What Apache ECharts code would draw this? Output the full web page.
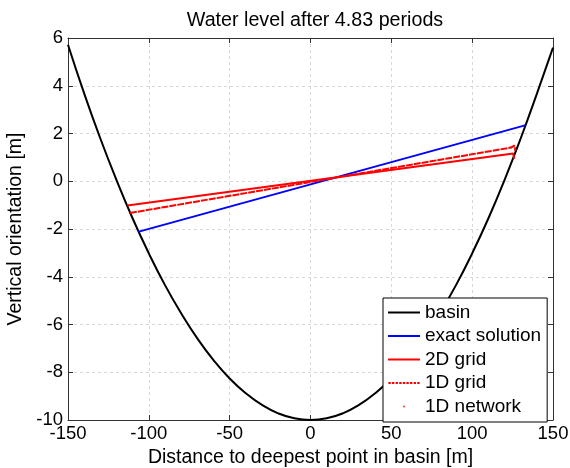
<!DOCTYPE html>
<html>
<head>
<meta charset="utf-8">
<script src="https://cdn.jsdelivr.net/npm/echarts@6/dist/echarts.min.js"></script>
<style>html,body{margin:0;padding:0;background:#fff;}#c{width:570px;height:468px;}</style>
</head>
<body>
<div id="c"></div>
<script>
var basinX = [-150,-140,-130,-120,-110,-100,-90,-80,-70,-60,-50,-40,-30,-20,-10,0,10,20,30,40,50,60,70,80,90,100,110,120,130,140,150];
var basinY = [5.72,3.68,1.79,0.05,-1.56,-3.02,-4.35,-5.53,-6.58,-7.49,-8.26,-8.88,-9.37,-9.72,-9.93,-10,-9.93,-9.72,-9.37,-8.88,-8.26,-7.49,-6.58,-5.53,-4.35,-3.02,-1.56,0.05,1.79,3.66,5.6];
var exactX = [-106.7, 133.2];
var exactY = [-2.12, 2.35];
var grid2dX = [-113.3, 123.1, 125.4, 126];
var grid2dY = [-1.02, 1.14, 1.16, 0.94];
var grid1dX = [-111.7, 124, 126, 126.8];
var grid1dY = [-1.33, 1.41, 1.49, 1.28];
var networkX = grid1dX;
var networkY = grid1dY;
var xTicks = [-150, 150, 50];
var yTicks = [-10, 6, 2];

function pts(xs, ys) { return xs.map(function (x, i) { return [x, ys[i]]; }); }

var FONT = 'Liberation Sans, Arial, sans-serif';
var axisCol = '#333';
var chart = echarts.init(document.getElementById('c'));
var dotted = 'path://M0,0h2.4v2h-2.4z M3.6,0h2.4v2h-2.4z M7.2,0h2.4v2h-2.4z M10.8,0h2.4v2h-2.4z M14.4,0h2.4v2h-2.4z M18,0h2.4v2h-2.4z M21.6,0h2.4v2h-2.4z M25.2,0h2.4v2h-2.4z M28.8,0h2.4v2h-2.4z';

function xAx(pos, show) {
  return {
    type: 'value', position: pos, min: xTicks[0], max: xTicks[1], interval: xTicks[2],
    name: show ? 'Distance to deepest point in basin [m]' : '',
    nameLocation: 'middle', nameGap: 26,
    nameTextStyle: { fontFamily: FONT, fontSize: 19.5, color: '#000' },
    axisLine: { show: true, onZero: false, lineStyle: { color: axisCol, width: 1 } },
    axisTick: { show: true, inside: true, length: 5, lineStyle: { color: axisCol } },
    axisLabel: { show: show, fontFamily: FONT, fontSize: 18.5, color: '#000', margin: 4 },
    splitLine: { show: show, lineStyle: { color: '#d8d8d8', type: [3, 3], width: 1 } }
  };
}
function yAx(pos, show) {
  return {
    type: 'value', position: pos, min: yTicks[0], max: yTicks[1], interval: yTicks[2],
    name: show ? 'Vertical orientation [m]' : '',
    nameLocation: 'middle', nameGap: 35,
    nameTextStyle: { fontFamily: FONT, fontSize: 19.5, color: '#000' },
    axisLine: { show: true, onZero: false, lineStyle: { color: axisCol, width: 1 } },
    axisTick: { show: true, inside: true, length: 5, lineStyle: { color: axisCol } },
    axisLabel: { show: show, fontFamily: FONT, fontSize: 18.5, color: '#000', margin: 5 },
    splitLine: { show: show, lineStyle: { color: '#d8d8d8', type: [3, 3], width: 1 } }
  };
}

chart.setOption({
  animation: false,
  backgroundColor: '#fff',
  title: {
    text: 'Water level after 4.83 periods',
    left: 310, top: 6, textAlign: 'center',
    textStyle: { fontFamily: FONT, fontSize: 19.7, fontWeight: 'normal', color: '#000' }
  },
  grid: { left: 68, right: 17, top: 38, bottom: 48, containLabel: false, outerBoundsMode: 'none' },
  xAxis: [xAx('bottom', true), xAx('top', false)],
  yAxis: [yAx('left', true), yAx('right', false)],
  legend: {
    orient: 'vertical', left: 383, top: 298,
    padding: [5, 6, 6, 5],
    itemWidth: 32, itemHeight: 2, itemGap: 4.5,
    backgroundColor: '#fff', borderColor: '#000', borderWidth: 1,
    textStyle: { fontFamily: FONT, fontSize: 19, lineHeight: 18, color: '#000' },
    data: [
      { name: 'basin', icon: 'rect' },
      { name: 'exact solution', icon: 'rect' },
      { name: '2D grid', icon: 'rect' },
      { name: '1D grid', icon: dotted },
      { name: '1D network', icon: 'circle' }
    ]
  },
  series: [
    { name: 'basin', type: 'line', data: pts(basinX, basinY), smooth: true, showSymbol: false, color: '#000', lineStyle: { color: '#000', width: 2 } },
    { name: 'exact solution', type: 'line', data: pts(exactX, exactY), showSymbol: false, color: '#0000ff', lineStyle: { color: '#0000ff', width: 2 } },
    { name: '2D grid', type: 'line', data: pts(grid2dX, grid2dY), showSymbol: false, color: '#ff0000', lineStyle: { color: '#ff0000', width: 2 } },
    { name: '1D grid', type: 'line', data: pts(grid1dX, grid1dY), showSymbol: false, color: '#ff0000', lineStyle: { color: '#ff0000', width: 2, type: [7, 1] } },
    { name: '1D network', type: 'scatter', data: pts(networkX, networkY), symbol: 'circle', symbolSize: 2, color: '#ff0000', itemStyle: { color: '#ff0000' } }
  ]
});
</script>
</body>
</html>
